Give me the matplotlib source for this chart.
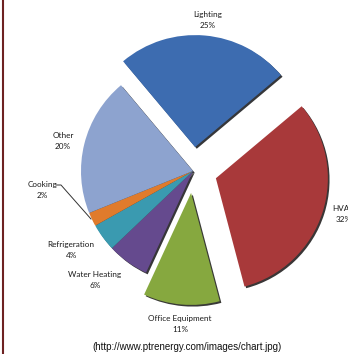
import matplotlib
matplotlib.use("Agg")
import matplotlib.pyplot as plt
from matplotlib.lines import Line2D

categories = ["Lighting", "HVAC", "Office Equipment", "Water Heating",
              "Refrigeration", "Cooking", "Other"]
values = [25, 32, 11, 6, 4, 2, 20]
pct_labels = ["25%", "32%", "11%", "6%", "4%", "2%", "20%"]
colors = ["#3d6cb0", "#a8393a", "#86a83f", "#654a8e", "#3a9ab0", "#e07b2c", "#8da3cf"]
explode_px = [24, 24, 22, 0, 0, 0, 0]

W, H = 348, 354
fig = plt.figure(figsize=(W / 100, H / 100), dpi=100)
ax = fig.add_axes([0, 0, 1, 1])

cx, cy, r = 193, H - 171, 112
wedges, _ = ax.pie(values, colors=colors, startangle=130, counterclock=False,
                   center=(cx, cy), radius=r,
                   explode=explode_px,
                   wedgeprops=dict(linewidth=0),
                   shadow={"ox": 1.2, "oy": -1.2, "shade": 0.95, "alpha": 0.8},
                   frame=True)
ax.set_xlim(0, W)
ax.set_ylim(0, H)
ax.set_aspect("equal")
ax.axis("off")

fs = 5.9
fam = ["Lato", "DejaVu Sans"]
label_pos = {
    "Lighting": (208, 20),
    "HVAC": (344, 214),
    "Office Equipment": (180, 324),
    "Water Heating": (95, 280),
    "Refrigeration": (71, 250),
    "Cooking": (42, 190),
    "Other": (63, 141),
}
for cat, pct in zip(categories, pct_labels):
    x, y = label_pos[cat]
    fig.text(x / W, 1 - y / H, f"{cat}\n{pct}", ha="center", va="center",
             fontsize=fs, family=fam, color="#1a1a1a", linespacing=1.6)

# leader line for Cooking
ax.plot([56, 61, 91], [H - 185, H - 185, H - 219], color="#333333", lw=0.7)

fig.text(187 / W, 1 - 347 / H, "(http://www.ptrenergy.com/images/chart.jpg)",
         ha="center", va="center", fontsize=7.0, family=["Liberation Sans", "DejaVu Sans"],
         color="#111111")

fig.add_artist(Line2D([3 / W, 3 / W], [0, 1], transform=fig.transFigure,
                      color="#6e2222", lw=1.5))

fig.savefig("out.png", dpi=100)
